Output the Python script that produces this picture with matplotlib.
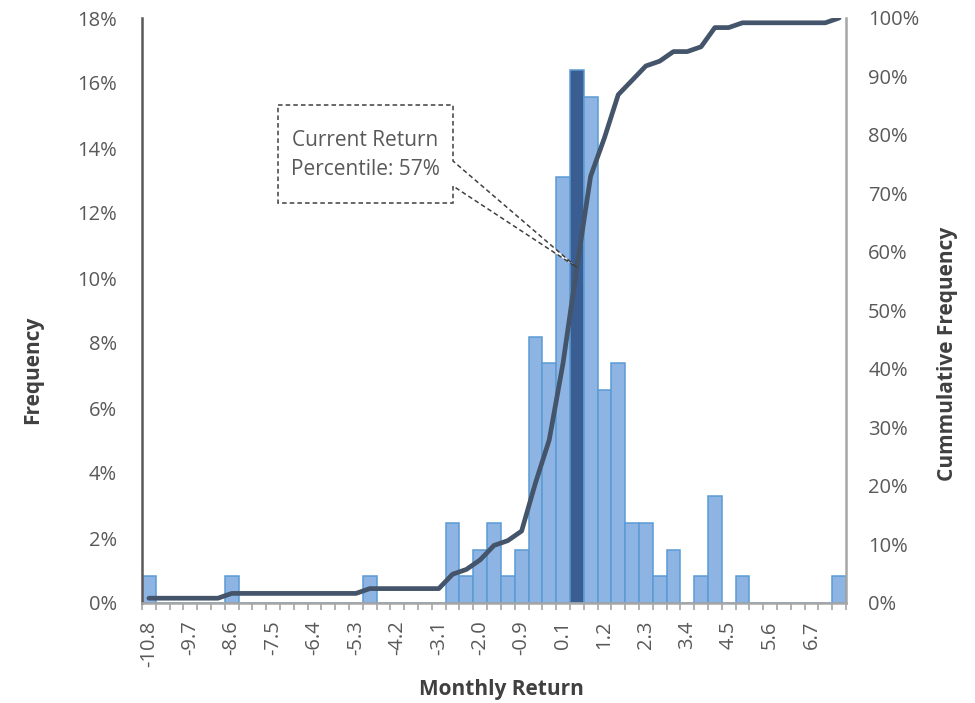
import numpy as np
import matplotlib
matplotlib.use("Agg")
import matplotlib.pyplot as plt
from matplotlib.patches import Polygon
from matplotlib.ticker import FuncFormatter

# Histogram of monthly returns (51 bins, % of observations per bin)
freq = [0.82, 0, 0, 0, 0, 0, 0.82, 0, 0, 0,
        0, 0, 0, 0, 0, 0, 0.82, 0, 0, 0,
        0, 0, 2.46, 0.82, 1.64, 2.46, 0.82, 1.64, 8.20, 7.38,
        13.11, 16.39, 15.57, 6.56, 7.38, 2.46, 2.46, 0.82, 1.64, 0,
        0.82, 3.28, 0, 0.82, 0, 0, 0, 0, 0, 0,
        0.82]

# cumulative frequency (%) per bin
cumfreq = [0.82, 0.82, 0.82, 0.82, 0.82, 0.82, 1.64, 1.64, 1.64, 1.64,
           1.64, 1.64, 1.64, 1.64, 1.64, 1.64, 2.46, 2.46, 2.46, 2.46,
           2.46, 2.46, 4.92, 5.74, 7.38, 9.84, 10.66, 12.30, 20.49, 27.87,
           40.98, 57.38, 72.95, 79.51, 86.89, 89.34, 91.80, 92.62, 94.26, 94.26,
           95.08, 98.36, 98.36, 99.18, 99.18, 99.18, 99.18, 99.18, 99.18, 99.18,
           100.0]

# labels shown on every third bin
tick_labels = ["-10.8", "-9.7", "-8.6", "-7.5", "-6.4", "-5.3", "-4.2", "-3.1", "-2.0",
               "-0.9", "0.1", "1.2", "2.3", "3.4", "4.5", "5.6", "6.7"]
label_step = 3

current_bin = 31  # bin holding the current return

plt.rcParams['font.family'] = ['Open Sans', 'DejaVu Sans']
txt = "#595959"
fs = 14.5

fig = plt.figure(figsize=(9.75, 7.03), dpi=100)
ax = fig.add_axes([142 / 975, 1 - 603 / 703, (846 - 142) / 975, (603 - 18) / 703])
ax2 = ax.twinx()

x = np.arange(len(freq))
colors = ["#8EB4E3"] * len(freq)
colors[current_bin] = "#3A5E92"
ax.bar(x, freq, width=1.0, color=colors, edgecolor="#5B9BD5", linewidth=1.1, zorder=2)

ax2.plot(x, cumfreq, color="#44546A", linewidth=3.4, solid_capstyle="round",
         solid_joinstyle="round", zorder=3)

ax.set_xlim(-0.5, len(freq) - 0.5)
ax.set_ylim(0, 18)
ax2.set_ylim(0, 100)

ax.set_yticks(np.arange(0, 19, 2))
ax.yaxis.set_major_formatter(FuncFormatter(lambda v, p: f"{v:.0f}%"))
ax2.set_yticks(np.arange(0, 101, 10))
ax2.yaxis.set_major_formatter(FuncFormatter(lambda v, p: f"{v:.0f}%"))

ax.set_xticks(x[::label_step])
ax.set_xticklabels(tick_labels, rotation=90)
ax.set_xticks(np.arange(-0.5, len(freq), 1.0), minor=True)
ax.tick_params(axis="x", which="major", length=0, pad=12.5, labelsize=fs, labelcolor=txt)
ax.tick_params(axis="x", which="minor", length=5, width=1.2, color="#A6A6A6", direction="out")
ax.tick_params(axis="y", length=0, pad=18, labelsize=fs, labelcolor=txt)
ax2.tick_params(axis="y", length=0, pad=16, labelsize=fs, labelcolor=txt)

for a in (ax, ax2):
    a.spines["top"].set_visible(False)
ax2.spines["left"].set_visible(False)
ax2.spines["bottom"].set_visible(False)
ax.spines["right"].set_visible(False)
ax.spines["left"].set_color("#595959")
ax.spines["left"].set_linewidth(1.8)
ax.spines["bottom"].set_color("#A6A6A6")
ax.spines["bottom"].set_linewidth(1.8)
ax2.spines["right"].set_color("#A6A6A6")
ax2.spines["right"].set_linewidth(1.8)

lab = dict(fontsize=15, fontweight="bold", color="#404040")
fig.text(33 / 975, 1 - 370 / 703, "Frequency", rotation=90, ha="center", va="center", **lab)
fig.text(501 / 975, 1 - 690 / 703, "Monthly Return", ha="center", va="center", **lab)
fig.text(948 / 975, 1 - 354 / 703, "Cummulative Frequency", rotation=90, ha="center", va="center", **lab)

# callout box pointing at the current return on the cumulative line
def px(xp, yp):
    return (xp / 975, 1 - yp / 703)

tip = ax2.transData.transform((current_bin, cumfreq[current_bin]))
tip = fig.transFigure.inverted().transform(tip)
verts = [px(278, 105), px(453, 105), px(453, 161), tip, px(453, 186), px(453, 203), px(278, 203)]
callout = Polygon(verts, closed=True, transform=fig.transFigure, facecolor="white",
                  edgecolor="#404040", linestyle=(0, (3, 2)), linewidth=1.1, zorder=5)
fig.add_artist(callout)
fig.text(365.5 / 975, 1 - 155 / 703, "Current Return\nPercentile: 57%", ha="center", va="center",
         fontsize=15, color=txt, linespacing=1.5, zorder=6)

fig.savefig("out.png", dpi=100)
